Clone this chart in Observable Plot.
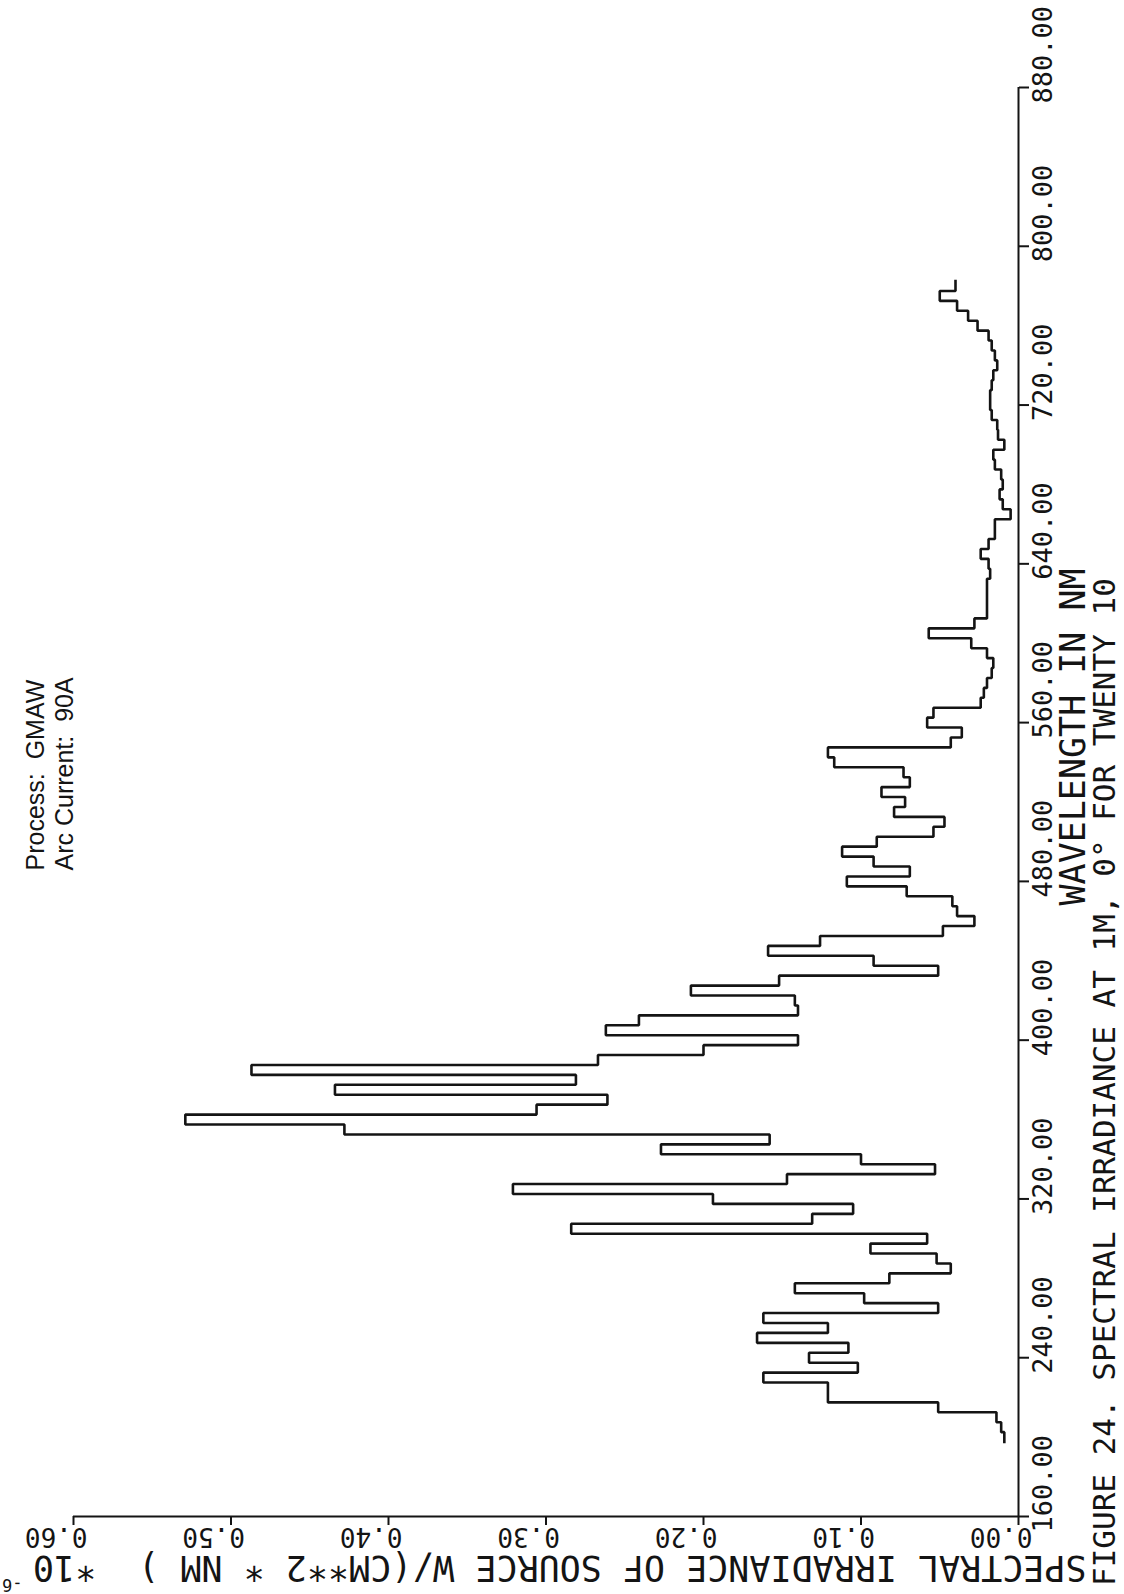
<!DOCTYPE html>
<html>
<head>
<meta charset="utf-8">
<script src="https://cdn.jsdelivr.net/npm/d3@7"></script>
<script src="https://cdn.jsdelivr.net/npm/@observablehq/plot@0.6"></script>
<style>
  html, body { margin: 0; padding: 0; background: #fff; overflow: hidden; width: 1124px; height: 1594px; }
  #chart { width: 1124px; height: 1594px; }
  #chart svg { display: block; max-width: none !important; width: 1124px; height: 1594px; }
</style>
</head>
<body>
<div id="chart"></div>
<script>
// Wavelength bin centres (nm), 5 nm bins
const binCenters = [
  200,205,210,215,220,225,230,235,240,245,
  250,255,260,265,270,275,280,285,290,295,
  300,305,310,315,320,325,330,335,340,345,
  350,355,360,365,370,375,380,385,390,395,
  400,405,410,415,420,425,430,435,440,445,
  450,455,460,465,470,475,480,485,490,495,
  500,505,510,515,520,525,530,535,540,545,
  550,555,560,565,570,575,580,585,590,595,
  600,605,610,615,620,625,630,635,640,645,
  650,655,660,665,670,675,680,685,690,695,
  700,705,710,715,720,725,730,735,740,745,
  750,755,760,765,770,775,780
];
const binHalfWidth = 2.5;
// Spectral irradiance (x 1e-6 W/(cm^2 nm))
const irradiance = [
  0.009,0.011,0.014,0.051,0.121,0.121,0.162,0.102,0.133,0.108,
  0.166,0.121,0.162,0.051,0.098,0.142,0.082,0.043,0.052,0.094,
  0.058,0.284,0.131,0.105,0.194,0.321,0.147,0.053,0.100,0.227,
  0.158,0.428,0.529,0.306,0.261,0.434,0.281,0.487,0.267,0.200,
  0.140,0.262,0.241,0.140,0.142,0.208,0.152,0.051,0.092,0.159,
  0.126,0.048,0.028,0.039,0.042,0.071,0.109,0.069,0.092,0.112,
  0.090,0.054,0.047,0.079,0.072,0.087,0.069,0.073,0.117,0.121,
  0.043,0.036,0.058,0.054,0.024,0.022,0.020,0.017,0.016,0.020,
  0.030,0.057,0.028,0.020,0.020,0.020,0.020,0.018,0.019,0.024,
  0.019,0.015,0.015,0.005,0.010,0.012,0.010,0.011,0.015,0.016,
  0.009,0.013,0.0135,0.017,0.018,0.018,0.017,0.016,0.0135,0.015,
  0.017,0.019,0.026,0.032,0.039,0.050,0.040
];
const wavelengthTicks = [160,240,320,400,480,560,640,720,800,880];
const valueTicks = [0,0.1,0.2,0.3,0.4,0.5,0.6];

const valueTitle = "SPECTRAL IRRADIANCE OF SOURCE W/(CM**2 * NM )  *10";
const valueTitleExp = "-6";
const wavelengthTitle = "WAVELENGTH IN NM";
const caption = "FIGURE 24. SPECTRAL IRRADIANCE AT 1M, 0\u00B0 FOR TWENTY 10";
const noteLines = ["Process:  GMAW", "Arc Current:  90A"];

// histogram outline: each bin contributes its two edges
const steps = binCenters.flatMap((c, i) => [
  {w: c - binHalfWidth, v: irradiance[i]},
  {w: c + binHalfWidth, v: irradiance[i]}
]);

const mono = "DejaVu Sans Mono, Liberation Mono, monospace";
const sans = "Liberation Sans, Arial, Helvetica, sans-serif";
const ink = "#141414";

const chart = Plot.plot({
  width: 1124,
  height: 1594,
  marginLeft: 73,
  marginRight: 106,
  marginTop: 87,
  marginBottom: 78,
  x: {domain: [0, 0.6], reverse: true},
  y: {domain: [160, 880]},
  style: {background: "#fff", color: ink, fontFamily: mono, overflow: "visible", maxWidth: "none"},
  marks: [
    Plot.ruleY([160], {stroke: ink, strokeWidth: 2}),
    Plot.ruleX([0], {stroke: ink, strokeWidth: 2}),
    Plot.axisX({anchor: "bottom", ticks: valueTicks, tickSize: 9, tickFormat: () => "", label: null, stroke: ink, strokeWidth: 2}),
    Plot.axisY({anchor: "right", ticks: wavelengthTicks, tickSize: 10, tickFormat: () => "", label: null, stroke: ink, strokeWidth: 2}),
    Plot.text(valueTicks, {
      x: d => d, frameAnchor: "bottom", text: d => d.toFixed(2),
      rotate: 180, textAnchor: "start", lineAnchor: "bottom",
      dx: 14, dy: 11, fontSize: 26, fontFamily: mono, fill: ink
    }),
    Plot.text(wavelengthTicks, {
      y: d => d, frameAnchor: "right", text: d => d.toFixed(2),
      rotate: -90, textAnchor: "start", lineAnchor: "bottom",
      dx: 33, dy: 16, fontSize: 27, fontFamily: mono, fill: ink
    }),
    Plot.line(steps, {x: "v", y: "w", stroke: ink, strokeWidth: 2.6, strokeLinejoin: "miter", strokeLinecap: "square"}),
    Plot.text([valueTitle], {
      frameAnchor: "bottom-right", text: d => d, rotate: 180, textAnchor: "start", lineAnchor: "bottom",
      dx: 68, dy: 39, fontSize: 35, fontFamily: mono, fill: ink, ariaLabel: "value-title"
    }),
    Plot.text([valueTitleExp], {
      frameAnchor: "bottom-left", text: d => d, rotate: 180, textAnchor: "start", lineAnchor: "bottom",
      dx: -51, dy: 62, fontSize: 17, fontFamily: mono, fill: ink
    }),
    Plot.text([wavelengthTitle], {
      frameAnchor: "right", text: d => d, rotate: -90, textAnchor: "start", lineAnchor: "bottom",
      dx: 66, dy: 103.5, fontSize: 35, fontFamily: mono, fill: ink, ariaLabel: "wavelength-title"
    }),
    Plot.text([caption], {
      frameAnchor: "right", text: d => d, rotate: -90, textAnchor: "start", lineAnchor: "bottom",
      dx: 96, dy: 784, fontSize: 31, fontFamily: mono, fill: ink, ariaLabel: "caption"
    }),
    Plot.text([noteLines[0]], {
      frameAnchor: "left", text: d => d, rotate: -90, textAnchor: "start", lineAnchor: "bottom",
      dx: -30, dy: 68.5, fontSize: 25, fontFamily: sans, fill: ink
    }),
    Plot.text([noteLines[1]], {
      frameAnchor: "left", text: d => d, rotate: -90, textAnchor: "start", lineAnchor: "bottom",
      dx: -1, dy: 68.5, fontSize: 25, fontFamily: sans, fill: ink
    })
  ]
});

document.getElementById("chart").appendChild(chart);

// stretch long typed lines to the reference's letter spacing
const spans = {"value-title": 1062, "wavelength-title": 345, "caption": 1556};
for (const [label, len] of Object.entries(spans)) {
  chart.querySelectorAll(`g[aria-label="${label}"] text`).forEach(t => {
    t.setAttribute("textLength", len);
    t.setAttribute("lengthAdjust", "spacing");
  });
}
</script>
</body>
</html>
